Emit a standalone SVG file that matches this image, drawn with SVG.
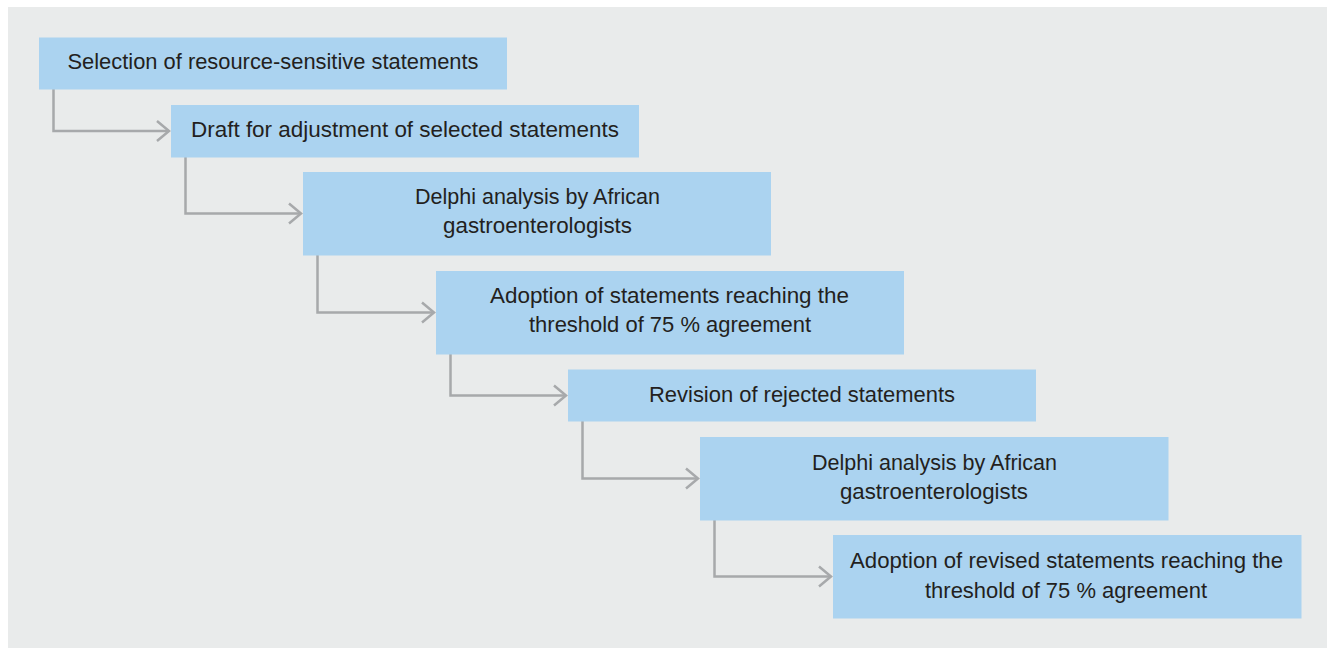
<svg xmlns="http://www.w3.org/2000/svg" width="1327" height="648" viewBox="0 0 1327 648">
<style>
.box{fill:#abd3f0}
.t{font-family:"Liberation Sans",Arial,sans-serif;font-size:22px;fill:#231f20;text-anchor:middle}
.c{fill:none;stroke:#a7a9ab;stroke-width:2.5}
</style>
<defs>
<marker id="arr" markerUnits="userSpaceOnUse" markerWidth="20" markerHeight="26" viewBox="-14 -13 16 26" refX="0" refY="0" orient="auto">
<path d="M-12,-10 L0,0 L-12,10" fill="none" stroke="#a7a9ab" stroke-width="2.5"/>
</marker>
</defs>
<rect width="1327" height="648" fill="#ffffff"/>
<rect x="8" y="7" width="1319" height="641" fill="#e9ebeb"/>
<g id="connectors">
<polyline class="c" points="53.5,89 53.5,131 169,131" marker-end="url(#arr)"/>
<polyline class="c" points="185.5,157 185.5,213.5 301,213.5" marker-end="url(#arr)"/>
<polyline class="c" points="317.5,255 317.5,312.5 434,312.5" marker-end="url(#arr)"/>
<polyline class="c" points="450.5,354 450.5,395.5 566,395.5" marker-end="url(#arr)"/>
<polyline class="c" points="582.5,421 582.5,478.5 698,478.5" marker-end="url(#arr)"/>
<polyline class="c" points="714.5,520 714.5,576.5 831,576.5" marker-end="url(#arr)"/>
</g>
<g id="n1">
<rect class="box" x="39" y="37.5" width="468" height="52"/>
<text class="t" x="273" y="68.5" textLength="411" lengthAdjust="spacingAndGlyphs">Selection of resource-sensitive statements</text>
</g>
<g id="n2">
<rect class="box" x="171" y="105" width="468" height="52.5"/>
<text class="t" x="405" y="136.5" textLength="428" lengthAdjust="spacingAndGlyphs">Draft for adjustment of selected statements</text>
</g>
<g id="n3">
<rect class="box" x="303" y="172" width="468" height="83.5"/>
<text class="t" x="537.5" y="204" textLength="245" lengthAdjust="spacingAndGlyphs">Delphi analysis by African</text>
<text class="t" x="537.5" y="233" textLength="189" lengthAdjust="spacingAndGlyphs">gastroenterologists</text>
</g>
<g id="n4">
<rect class="box" x="436" y="271" width="468" height="83.5"/>
<text class="t" x="669.5" y="303" textLength="359" lengthAdjust="spacingAndGlyphs">Adoption of statements reaching the</text>
<text class="t" x="670" y="332" textLength="282" lengthAdjust="spacingAndGlyphs">threshold of 75 % agreement</text>
</g>
<g id="n5">
<rect class="box" x="568" y="369.5" width="468" height="52"/>
<text class="t" x="802" y="402" textLength="306" lengthAdjust="spacingAndGlyphs">Revision of rejected statements</text>
</g>
<g id="n6">
<rect class="box" x="700" y="437" width="468.5" height="83.5"/>
<text class="t" x="934.5" y="470" textLength="245" lengthAdjust="spacingAndGlyphs">Delphi analysis by African</text>
<text class="t" x="934" y="498.5" textLength="188" lengthAdjust="spacingAndGlyphs">gastroenterologists</text>
</g>
<g id="n7">
<rect class="box" x="833" y="535" width="468.5" height="83.5"/>
<text class="t" x="1066.5" y="568" textLength="433" lengthAdjust="spacingAndGlyphs">Adoption of revised statements reaching the</text>
<text class="t" x="1066" y="597.5" textLength="282" lengthAdjust="spacingAndGlyphs">threshold of 75 % agreement</text>
</g>
</svg>
